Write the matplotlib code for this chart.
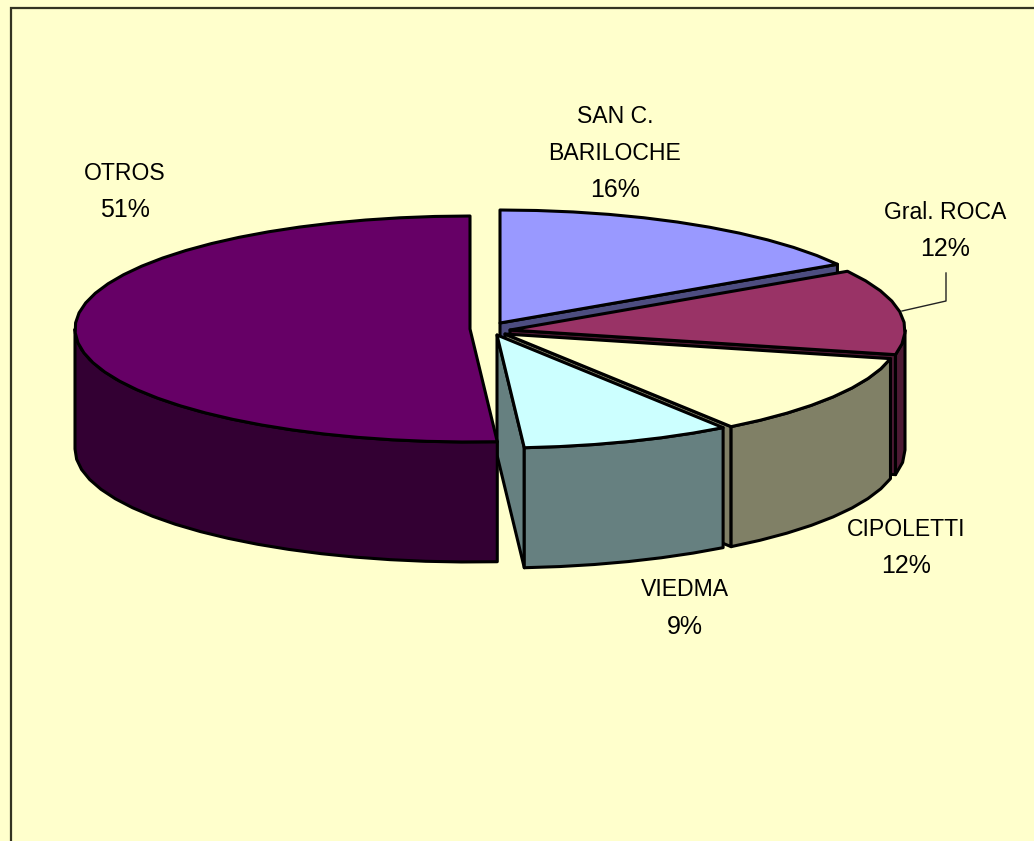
import numpy as np
import matplotlib
matplotlib.use("Agg")
import matplotlib.pyplot as plt
from matplotlib.patches import Polygon

plt.rcParams['font.family'] = ['Liberation Sans', 'DejaVu Sans']

# data, clockwise from 12 o'clock (labels show these rounded)
labels = ["SAN C.\nBARILOCHE", "Gral. ROCA", "CIPOLETTI", "VIEDMA", "OTROS"]
values = [16.3, 12.2, 11.8, 8.6, 51.1]

top_colors = ["#9999FF", "#993366", "#FFFFCC", "#CCFFFF", "#660066"]
side_colors = ["#4D4D80", "#4D1A33", "#808066", "#668080", "#330033"]

# apex of each exploded slice, in pixels
apex_x = [500, 510, 505, 497, 470]
apex_y = [323, 330, 334, 335, 329]

# centre of the percent line of each label
label_x = [615, 945, 906, 685, 125]
label_y = [190, 249, 566, 627, 210]

BG = "#FFFFCC"
RX, RY = 395, 113
DEPTH = 120
LINE_GAP = 37

fig = plt.figure(figsize=(10.34, 8.41), dpi=100, facecolor=BG)
ax = fig.add_axes([0, 0, 1, 1])
ax.set_xlim(0, 1034)
ax.set_ylim(841, 0)
ax.axis("off")

# chart area border runs off the right and bottom of the picture
ax.plot([11, 11, 1034], [841, 8, 8], color="#333322", lw=1.6, solid_joinstyle="miter")


def arc(cx, cy, t0, t1):
    # coarse steps keep the slightly faceted outline of the original
    n = max(2, int((t1 - t0) / 5) + 1)
    t = np.radians(np.linspace(t0, t1, n))
    return cx + RX * np.sin(t), cy - RY * np.cos(t)


starts = np.cumsum([0] + values[:-1]) * 3.6
ends = np.cumsum(values) * 3.6

for i in range(len(values)):
    cx, cy = apex_x[i], apex_y[i]
    t0, t1 = starts[i], ends[i]
    z = 10 + i * 3

    # outer rim, only the part facing the viewer
    r0, r1 = max(t0, 90), min(t1, 270)
    if r0 < r1:
        xr, yr = arc(cx, cy, r0, r1)
        pts = np.column_stack([np.r_[xr, xr[::-1]], np.r_[yr, yr[::-1] + DEPTH]])
        ax.add_patch(Polygon(pts, fc=side_colors[i], ec="black", lw=2.2, zorder=z + 1, joinstyle="round"))

    # cut wall at the clockwise end of the slice
    if t1 < 270:
        xe, ye = arc(cx, cy, t1, t1)
        pts = [(cx, cy), (xe[0], ye[0]), (xe[0], ye[0] + DEPTH), (cx, cy + DEPTH)]
        ax.add_patch(Polygon(pts, fc=side_colors[i], ec="black", lw=2.2, zorder=z, joinstyle="round"))

    # top face
    xt, yt = arc(cx, cy, t0, t1)
    pts = np.column_stack([np.r_[cx, xt], np.r_[cy, yt]])
    ax.add_patch(Polygon(pts, fc=top_colors[i], ec="black", lw=2.2, zorder=z + 2, joinstyle="round"))

    # percent line, then the name lines stacked above it
    ax.text(label_x[i], label_y[i], f"{values[i]:.0f}%", ha="center", va="center",
            fontsize=18, color="black", zorder=30)
    name_lines = labels[i].split("\n")[::-1]
    for k, line in enumerate(name_lines):
        ax.text(label_x[i], label_y[i] - LINE_GAP * (k + 1), line, ha="center", va="center",
                fontsize=16.6, color="black", zorder=30)

# leader line of Gral. ROCA
ax.plot([946, 946, 902], [273, 301, 311], color="#222222", lw=1, zorder=25)

fig.savefig("out.png", dpi=100, facecolor=BG)
